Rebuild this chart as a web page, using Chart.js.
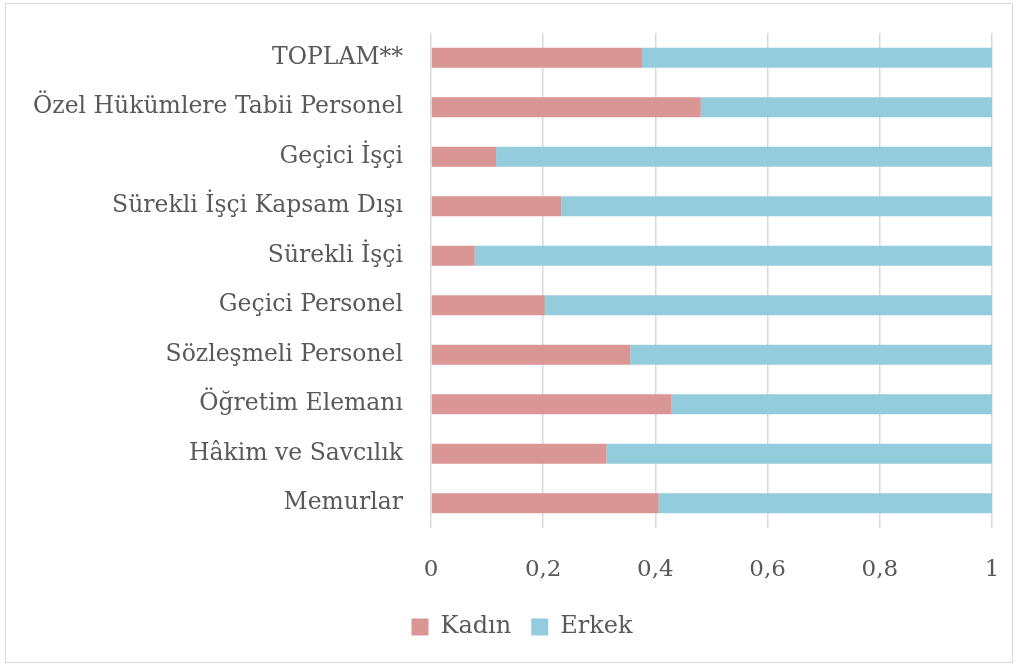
<!DOCTYPE html>
<html>
<head>
<meta charset="utf-8">
<script src="https://cdn.jsdelivr.net/npm/chart.js@4/dist/chart.umd.min.js"></script>
<style>
  html, body { margin: 0; padding: 0; background: #fff; }
  #wrap { position: relative; width: 1018px; height: 669px; }
</style>
</head>
<body>
<div id="wrap"><canvas id="c" width="1018" height="669"></canvas></div>
<script>
const categories = ['TOPLAM**', 'Özel Hükümlere Tabii Personel', 'Geçici İşçi', 'Sürekli İşçi Kapsam Dışı', 'Sürekli İşçi', 'Geçici Personel', 'Sözleşmeli Personel', 'Öğretim Elemanı', 'Hâkim ve Savcılık', 'Memurlar'];
const kadin = [0.376, 0.481, 0.116, 0.232, 0.078, 0.203, 0.355, 0.429, 0.313, 0.406];
const erkek = [0.624, 0.519, 0.884, 0.768, 0.922, 0.797, 0.645, 0.571, 0.687, 0.594];
const xTicks = [0, 0.2, 0.4, 0.6, 0.8, 1];

const FONT = "'DejaVu Serif', 'Liberation Serif', serif";

const framePlugin = {
  id: 'frame',
  afterLayout(chart) {
    if (chart.legend) { chart.legend.left += 26; chart.legend.right += 26; }
  },
  beforeDraw(chart) {
    const ctx = chart.ctx;
    ctx.save();
    ctx.fillStyle = '#fff';
    ctx.fillRect(0, 0, chart.width, chart.height);
    ctx.strokeStyle = '#D9D9D9';
    ctx.lineWidth = 1;
    ctx.strokeRect(5.5, 3.5, 1007, 659);
    ctx.restore();
  }
};

new Chart(document.getElementById('c'), {
  type: 'bar',
  data: {
    labels: categories,
    datasets: [
      { label: 'Kadın', data: kadin, backgroundColor: '#D99694', borderWidth: 0 },
      { label: 'Erkek', data: erkek, backgroundColor: '#93CDDD', borderWidth: 0 }
    ]
  },
  options: {
    indexAxis: 'y',
    responsive: false,
    animation: false,
    devicePixelRatio: 1,
    layout: { padding: { top: 33, right: 26, bottom: 20, left: 0 } },
    datasets: { bar: { categoryPercentage: 1, barPercentage: 0.4 } },
    scales: {
      x: {
        stacked: true,
        min: 0, max: 1,
        afterBuildTicks(scale) { scale.ticks = xTicks.map(v => ({ value: v })); },
        afterFit(scale) { scale.paddingLeft = 0; scale.paddingRight = 0; scale.height = 67; },
        grid: { color: '#D9D9D9', lineWidth: 1.5, drawTicks: false },
        border: { display: false },
        ticks: {
          padding: 28,
          color: '#595959',
          font: { family: FONT, size: 23 },
          callback: v => String(v).replace('.', ',')
        }
      },
      y: {
        stacked: true,
        afterFit(scale) { scale.width = 431; scale.paddingTop = 0; scale.paddingBottom = 0; },
        grid: { display: false, drawTicks: false },
        border: { display: false },
        ticks: {
          padding: 28,
          color: '#595959',
          font: { family: FONT, size: 23.5 }
        }
      }
    },
    plugins: {
      legend: {
        position: 'bottom',
        labels: {
          boxWidth: 17, boxHeight: 17,
          color: '#595959',
          padding: 20,
          font: { family: FONT, size: 24 }
        }
      },
      tooltip: { enabled: false }
    }
  },
  plugins: [framePlugin]
});
</script>
</body>
</html>
